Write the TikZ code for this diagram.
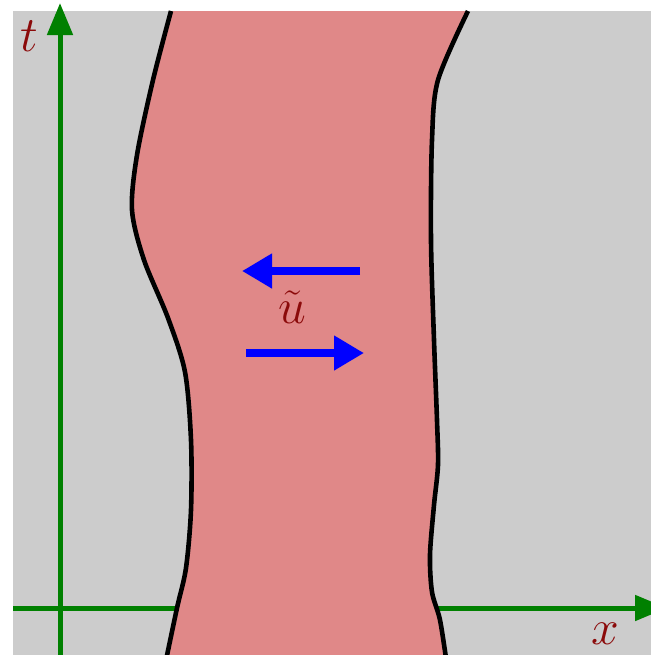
\documentclass[tikz,border=0pt]{standalone}
\usetikzlibrary{arrows.meta}
\definecolor{bggray}{HTML}{CCCCCC}
\definecolor{bandpink}{HTML}{E08888}
\definecolor{labelred}{HTML}{8B0A0A}
\definecolor{axisgreen}{HTML}{008000}
\tikzset{
  axis/.style={axisgreen,line width=2.5pt,-{Triangle[length=16pt,width=12.5pt]}},
  flow/.style={blue,line width=4pt,-{Triangle[length=15pt,width=16.5pt]}},
  edge/.style={black,line width=2.3pt},
  lbl/.style={labelred,inner sep=0pt,font=\fontsize{26}{30}\selectfont}
}
\begin{document}
\begin{tikzpicture}[x=.5pt,y=-.5pt]
        \useasboundingbox (0,0) rectangle (651,655);
        \fill[bggray] (13,11) rectangle (670,670);
        % axes, behind the band
        \coordinate (t0) at (60,670);
        \coordinate (t1) at (60,3);
        \coordinate (x0) at (13,608);
        \coordinate (x1) at (667,608);
        \draw[axis] (t0) -- (t1);
        \draw[axis] (x0) -- (x1);
        % band between the two edges
        \fill[bandpink] plot[smooth] coordinates {(171,11) (153,80) (137,155) (132,210) (144,260) (168,318) (185,372) (191,440) (191,510) (186,568) (177,608) (165,665)}
          -- plot[smooth] coordinates {(447,665) (440,620) (432,592) (430,555) (434,505) (438,465) (437,420) (434,340) (431,240) (432,140) (438,80) (468,11)} -- cycle;
        \draw[edge] plot[smooth] coordinates {(171,11) (153,80) (137,155) (132,210) (144,260) (168,318) (185,372) (191,440) (191,510) (186,568) (177,608) (165,665)};
        \draw[edge] plot[smooth] coordinates {(447,665) (440,620) (432,592) (430,555) (434,505) (438,465) (437,420) (434,340) (431,240) (432,140) (438,80) (468,11)};
        % waves
        \coordinate (wl0) at (360,271);
        \coordinate (wl1) at (242,271);
        \coordinate (wr0) at (246,353);
        \coordinate (wr1) at (364,353);
        \draw[flow] (wl0) -- (wl1);
        \draw[flow] (wr0) -- (wr1);
        \node[lbl] (ulab) at (292,307) {$\tilde{u}$};
        \node[lbl] (tlab) at (29,36) {$t$};
        \node[lbl] (xlab) at (605,634) {$x$};
      \end{tikzpicture}
\end{document}
